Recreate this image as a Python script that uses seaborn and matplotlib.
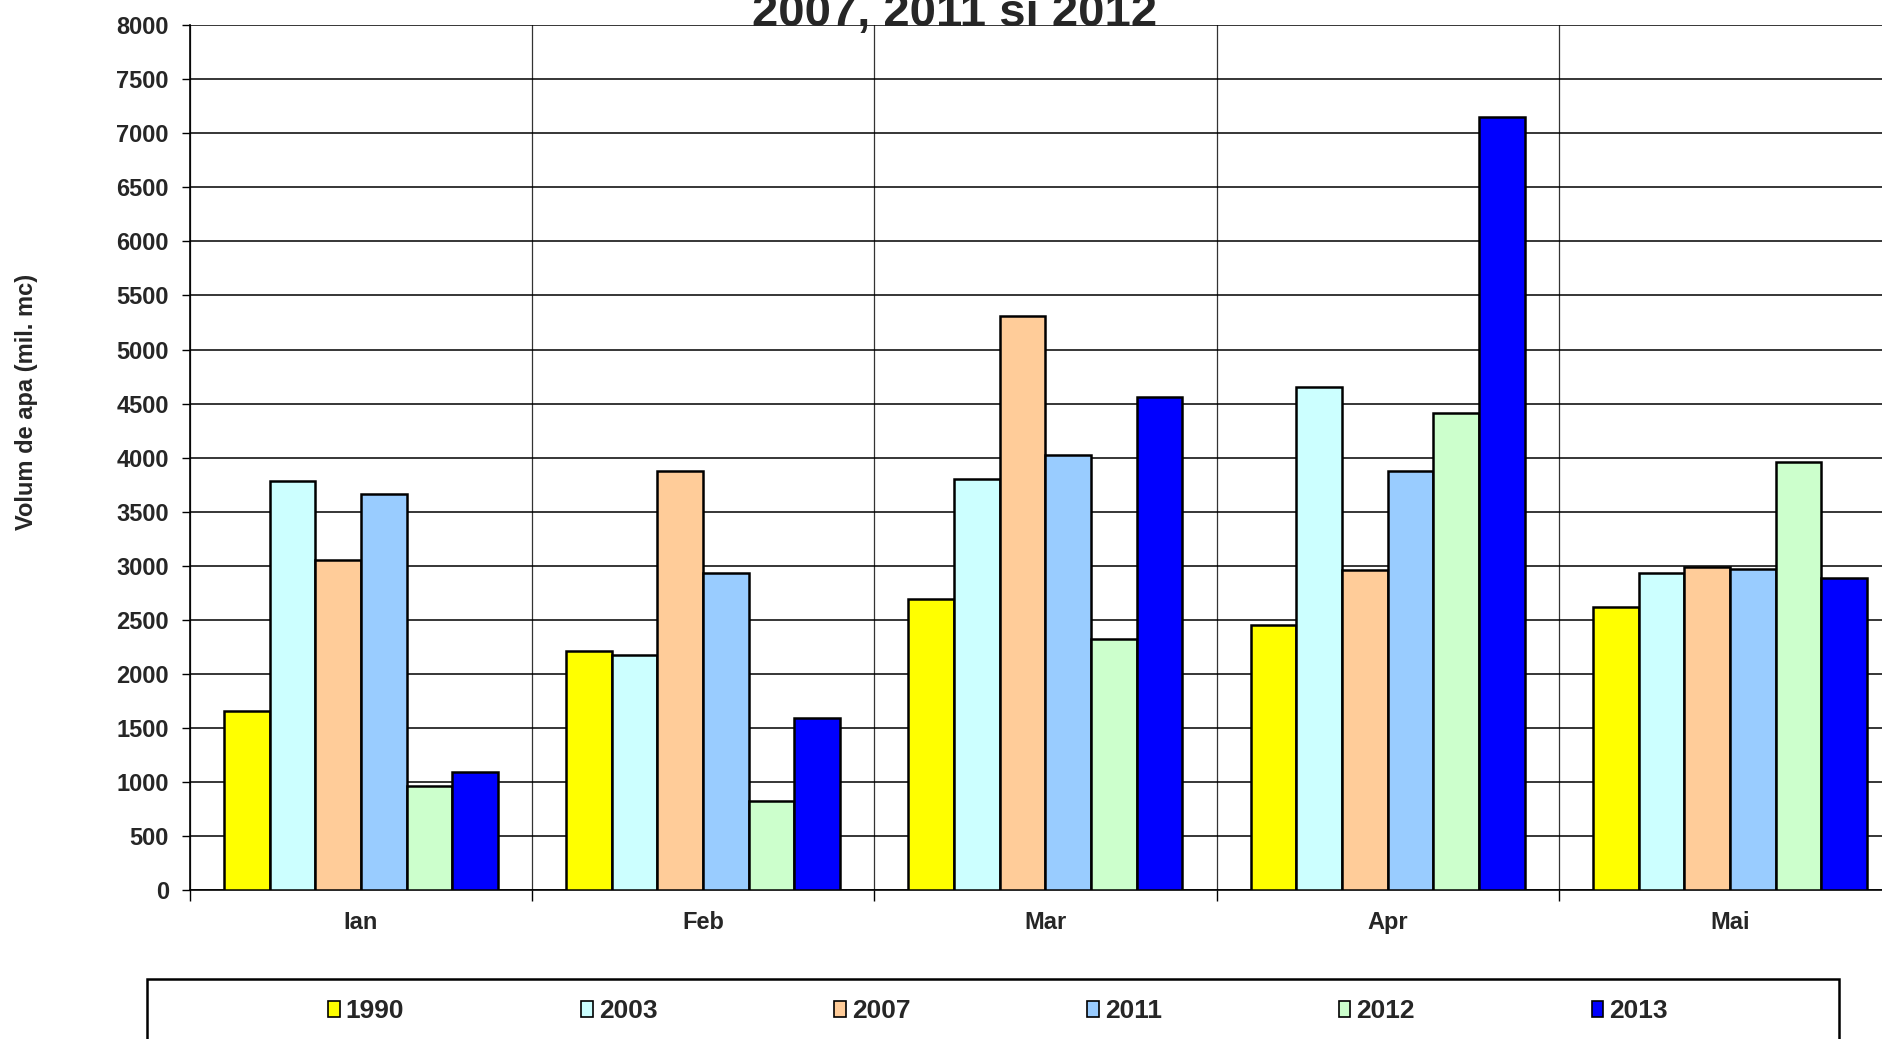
import matplotlib
matplotlib.use("Agg")
import matplotlib.pyplot as plt
from matplotlib.patches import Patch, Rectangle
from matplotlib.ticker import MultipleLocator, FixedLocator, NullFormatter
import seaborn as sns
import pandas as pd

# ---- data ----
months = ["Ian", "Feb", "Mar", "Apr", "Mai"]
years = ["1990", "2003", "2007", "2011", "2012", "2013"]
v1990 = [1660, 2210, 2690, 2450, 2620]
v2003 = [3780, 2170, 3800, 4650, 2930]
v2007 = [3050, 3880, 5310, 2960, 2990]
v2011 = [3660, 2930, 4020, 3880, 2970]
v2012 = [960, 820, 2320, 4410, 3960]
v2013 = [1090, 1590, 4560, 7150, 2890]
colors = ["#FFFF00", "#CCFFFF", "#FFCC99", "#99CCFF", "#CCFFCC", "#0000FF"]
title_text = "2007, 2011 si 2012"
ylabel_text = "Volum de apa (mil. mc)"

series = [v1990, v2003, v2007, v2011, v2012, v2013]
rows = []
for yr, vals in zip(years, series):
    for m, v in zip(months, vals):
        rows.append({"luna": m, "an": yr, "volum": v})
df = pd.DataFrame(rows)

sns.set_style("ticks")
plt.rcParams["font.family"] = ["Liberation Sans", "DejaVu Sans"]
plt.rcParams["font.weight"] = "bold"

W, H = 1568.0, 865.0
fig = plt.figure(figsize=(18.83, 10.39), dpi=100)
ax = fig.add_axes([158 / W, 1 - 741 / H, (1583 - 158) / W, (741 - 21) / H])

sns.barplot(data=df, x="luna", y="volum", hue="an", order=months, hue_order=years,
            palette=colors, saturation=1, edgecolor="black", linewidth=1.8,
            width=0.8, legend=False, ax=ax, zorder=3)

ax.set_xlim(-0.5, len(months) - 0.5)
ax.set_ylim(0, 8000)
ax.yaxis.set_major_locator(MultipleLocator(500))
ax.grid(axis="y", color="black", linewidth=1.1, zorder=0)
ax.set_axisbelow(True)

# category separators
ax.xaxis.set_minor_locator(FixedLocator([i + 0.5 for i in range(-1, len(months))]))
ax.xaxis.set_minor_formatter(NullFormatter())
ax.grid(axis="x", which="minor", color="#333333", linewidth=0.9, zorder=0)
ax.tick_params(axis="x", which="major", length=0, pad=15, labelsize=17)
ax.tick_params(axis="x", which="minor", length=8, width=1, color="black", direction="out")
ax.tick_params(axis="y", which="major", length=6, width=1, color="black", pad=9, labelsize=17)
for lab in ax.get_xticklabels() + ax.get_yticklabels():
    lab.set_fontweight("bold")

for s in ["top", "right"]:
    ax.spines[s].set_visible(False)
for s in ["left", "bottom"]:
    ax.spines[s].set_color("black")
    ax.spines[s].set_linewidth(1.2)

ax.set_xlabel("")
ax.set_ylabel("")
fig.text(22 / W, 1 - 335 / H, ylabel_text, rotation=90, ha="center", va="center",
         fontsize=17, fontweight="bold")

fig.text(795 / W, 1 - 22 / H, title_text, ha="center", va="baseline",
         fontsize=34, fontweight="bold")

# legend box
fig.patches.append(Rectangle((122 / W, -0.1), (1531 - 122) / W, 0.1 + 1 - 815 / H,
                             transform=fig.transFigure, fill=False, edgecolor="black",
                             linewidth=1.8))
handles = [Patch(facecolor=c, edgecolor="black", linewidth=1.2) for c in colors]
fig.legend(handles, years, loc="center", bbox_to_anchor=(831 / W, 1 - 842 / H), ncol=6,
           frameon=False, handlelength=0.45, handleheight=0.6, handletextpad=0.22,
           columnspacing=6.7, prop={"weight": "bold", "size": 19})

fig.savefig("out.png", dpi=100)
